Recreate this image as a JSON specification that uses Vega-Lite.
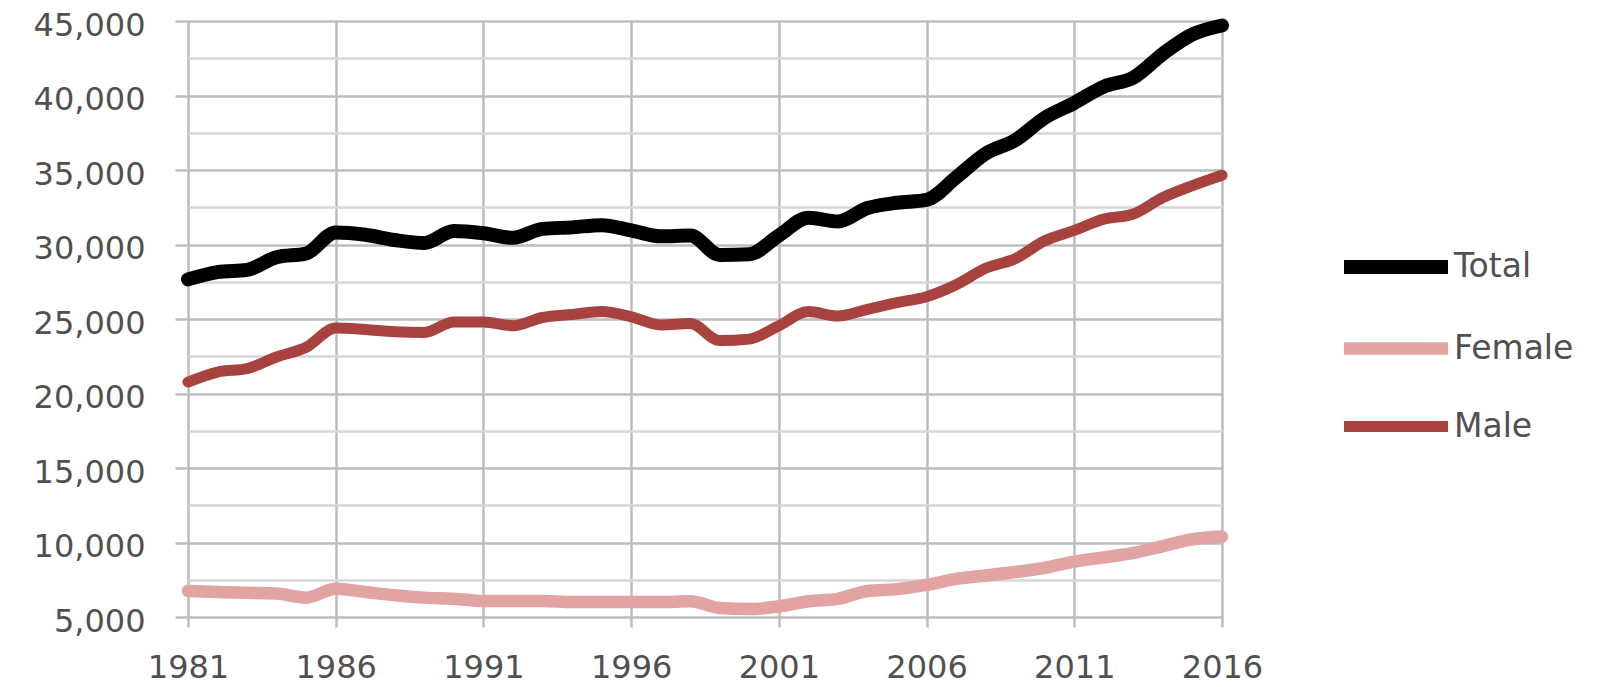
{
  "$schema": "https://vega.github.io/schema/vega-lite/v6.json",
  "width": 1034,
  "height": 596,
  "autosize": {"type": "none"},
  "padding": {"left": 188, "top": 21, "right": 376, "bottom": 70},
  "background": "white",
  "config": {"view": {"stroke": null}},
  "data": {"values": [
    {"year":1981,"series":"Total","value":27660},{"year":1982,"series":"Total","value":28150},{"year":1983,"series":"Total","value":28300},{"year":1984,"series":"Total","value":29150},{"year":1985,"series":"Total","value":29400},{"year":1986,"series":"Total","value":30800},{"year":1987,"series":"Total","value":30650},{"year":1988,"series":"Total","value":30300},{"year":1989,"series":"Total","value":30100},{"year":1990,"series":"Total","value":30900},{"year":1991,"series":"Total","value":30750},{"year":1992,"series":"Total","value":30450},{"year":1993,"series":"Total","value":31050},{"year":1994,"series":"Total","value":31150},{"year":1995,"series":"Total","value":31300},{"year":1996,"series":"Total","value":30950},{"year":1997,"series":"Total","value":30550},{"year":1998,"series":"Total","value":30600},{"year":1999,"series":"Total","value":29300},{"year":2000,"series":"Total","value":29350},{"year":2001,"series":"Total","value":30600},{"year":2002,"series":"Total","value":31800},{"year":2003,"series":"Total","value":31550},{"year":2004,"series":"Total","value":32450},{"year":2005,"series":"Total","value":32800},{"year":2006,"series":"Total","value":33000},{"year":2007,"series":"Total","value":34500},{"year":2008,"series":"Total","value":36100},{"year":2009,"series":"Total","value":37000},{"year":2010,"series":"Total","value":38500},{"year":2011,"series":"Total","value":39500},{"year":2012,"series":"Total","value":40600},{"year":2013,"series":"Total","value":41200},{"year":2014,"series":"Total","value":42800},{"year":2015,"series":"Total","value":44100},{"year":2016,"series":"Total","value":44700},
    {"year":1981,"series":"Female","value":6750},{"year":1982,"series":"Female","value":6680},{"year":1983,"series":"Female","value":6620},{"year":1984,"series":"Female","value":6570},{"year":1985,"series":"Female","value":6300},{"year":1986,"series":"Female","value":6900},{"year":1987,"series":"Female","value":6680},{"year":1988,"series":"Female","value":6460},{"year":1989,"series":"Female","value":6300},{"year":1990,"series":"Female","value":6230},{"year":1991,"series":"Female","value":6070},{"year":1992,"series":"Female","value":6070},{"year":1993,"series":"Female","value":6070},{"year":1994,"series":"Female","value":6000},{"year":1995,"series":"Female","value":6000},{"year":1996,"series":"Female","value":6000},{"year":1997,"series":"Female","value":6000},{"year":1998,"series":"Female","value":6060},{"year":1999,"series":"Female","value":5600},{"year":2000,"series":"Female","value":5530},{"year":2001,"series":"Female","value":5710},{"year":2002,"series":"Female","value":6060},{"year":2003,"series":"Female","value":6220},{"year":2004,"series":"Female","value":6750},{"year":2005,"series":"Female","value":6870},{"year":2006,"series":"Female","value":7150},{"year":2007,"series":"Female","value":7560},{"year":2008,"series":"Female","value":7790},{"year":2009,"series":"Female","value":8020},{"year":2010,"series":"Female","value":8300},{"year":2011,"series":"Female","value":8720},{"year":2012,"series":"Female","value":9000},{"year":2013,"series":"Female","value":9300},{"year":2014,"series":"Female","value":9760},{"year":2015,"series":"Female","value":10220},{"year":2016,"series":"Female","value":10400},
    {"year":1981,"series":"Male","value":20770},{"year":1982,"series":"Male","value":21440},{"year":1983,"series":"Male","value":21670},{"year":1984,"series":"Male","value":22450},{"year":1985,"series":"Male","value":23100},{"year":1986,"series":"Male","value":24400},{"year":1987,"series":"Male","value":24300},{"year":1988,"series":"Male","value":24150},{"year":1989,"series":"Male","value":24100},{"year":1990,"series":"Male","value":24800},{"year":1991,"series":"Male","value":24800},{"year":1992,"series":"Male","value":24550},{"year":1993,"series":"Male","value":25100},{"year":1994,"series":"Male","value":25300},{"year":1995,"series":"Male","value":25500},{"year":1996,"series":"Male","value":25150},{"year":1997,"series":"Male","value":24600},{"year":1998,"series":"Male","value":24700},{"year":1999,"series":"Male","value":23550},{"year":2000,"series":"Male","value":23650},{"year":2001,"series":"Male","value":24550},{"year":2002,"series":"Male","value":25500},{"year":2003,"series":"Male","value":25200},{"year":2004,"series":"Male","value":25650},{"year":2005,"series":"Male","value":26100},{"year":2006,"series":"Male","value":26500},{"year":2007,"series":"Male","value":27300},{"year":2008,"series":"Male","value":28400},{"year":2009,"series":"Male","value":29050},{"year":2010,"series":"Male","value":30250},{"year":2011,"series":"Male","value":30950},{"year":2012,"series":"Male","value":31700},{"year":2013,"series":"Male","value":32050},{"year":2014,"series":"Male","value":33150},{"year":2015,"series":"Male","value":33950},{"year":2016,"series":"Male","value":34650}
  ]},
  "mark": {"type": "line", "interpolate": "monotone", "strokeCap": "round", "strokeJoin": "round"},
  "encoding": {
    "x": {
      "field": "year", "type": "quantitative",
      "scale": {"domain": [1981, 2016], "nice": false, "zero": false},
      "axis": {
        "title": null, "values": [1981, 1986, 1991, 1996, 2001, 2006, 2011, 2016], "format": "d",
        "grid": true, "gridColor": "#bdbdbd", "gridWidth": 2.5,
        "domain": false, "ticks": true, "tickSize": 10, "tickColor": "#bdbdbd", "tickWidth": 2.5,
        "labelFont": "DejaVu Sans", "labelFontSize": 32, "labelColor": "#505050", "labelPadding": 25,
        "labelOverlap": false, "labelFlush": false, "labelBound": false
      }
    },
    "y": {
      "field": "value", "type": "quantitative",
      "scale": {"domain": [5000, 45000], "nice": false, "zero": false},
      "axis": {
        "title": null,
        "values": [5000, 7500, 10000, 12500, 15000, 17500, 20000, 22500, 25000, 27500, 30000, 32500, 35000, 37500, 40000, 42500, 45000],
        "format": ",.0f",
        "labelExpr": "datum.value % 5000 === 0 ? datum.label : ''",
        "grid": true,
        "gridColor": {"condition": {"test": "datum.value % 5000 === 0", "value": "#bdbdbd"}, "value": "#d6d6d6"},
        "gridWidth": 2.5,
        "domain": false, "tickSize": 13, "tickWidth": 2.5,
        "tickColor": {"condition": {"test": "datum.value % 5000 === 0", "value": "#bdbdbd"}, "value": "rgba(0,0,0,0)"},
        "labelFont": "DejaVu Sans", "labelFontSize": 32, "labelColor": "#505050", "labelPadding": 30, "labelOffset": 4,
        "labelOverlap": false, "labelBound": false
      }
    },
    "strokeWidth": {
      "field": "series", "type": "nominal",
      "scale": {"domain": ["Total", "Female", "Male"], "range": [14, 11, 12]},
      "legend": null
    },
    "color": {
      "field": "series", "type": "nominal",
      "scale": {"domain": ["Total", "Female", "Male"], "range": ["#000000", "#e2a3a3", "#a8423f"]},
      "legend": {
        "orient": "none", "legendX": 1175, "legendY": 213, "title": null, "padding": 0,
        "symbolType": "M-2,0H2", "symbolSize": 2704, "symbolStrokeWidth": 12,
        "labelFont": "DejaVu Sans", "labelFontSize": 33, "labelColor": "#505050", "labelOffset": 25, "rowPadding": 21
      }
    }
  }
}
